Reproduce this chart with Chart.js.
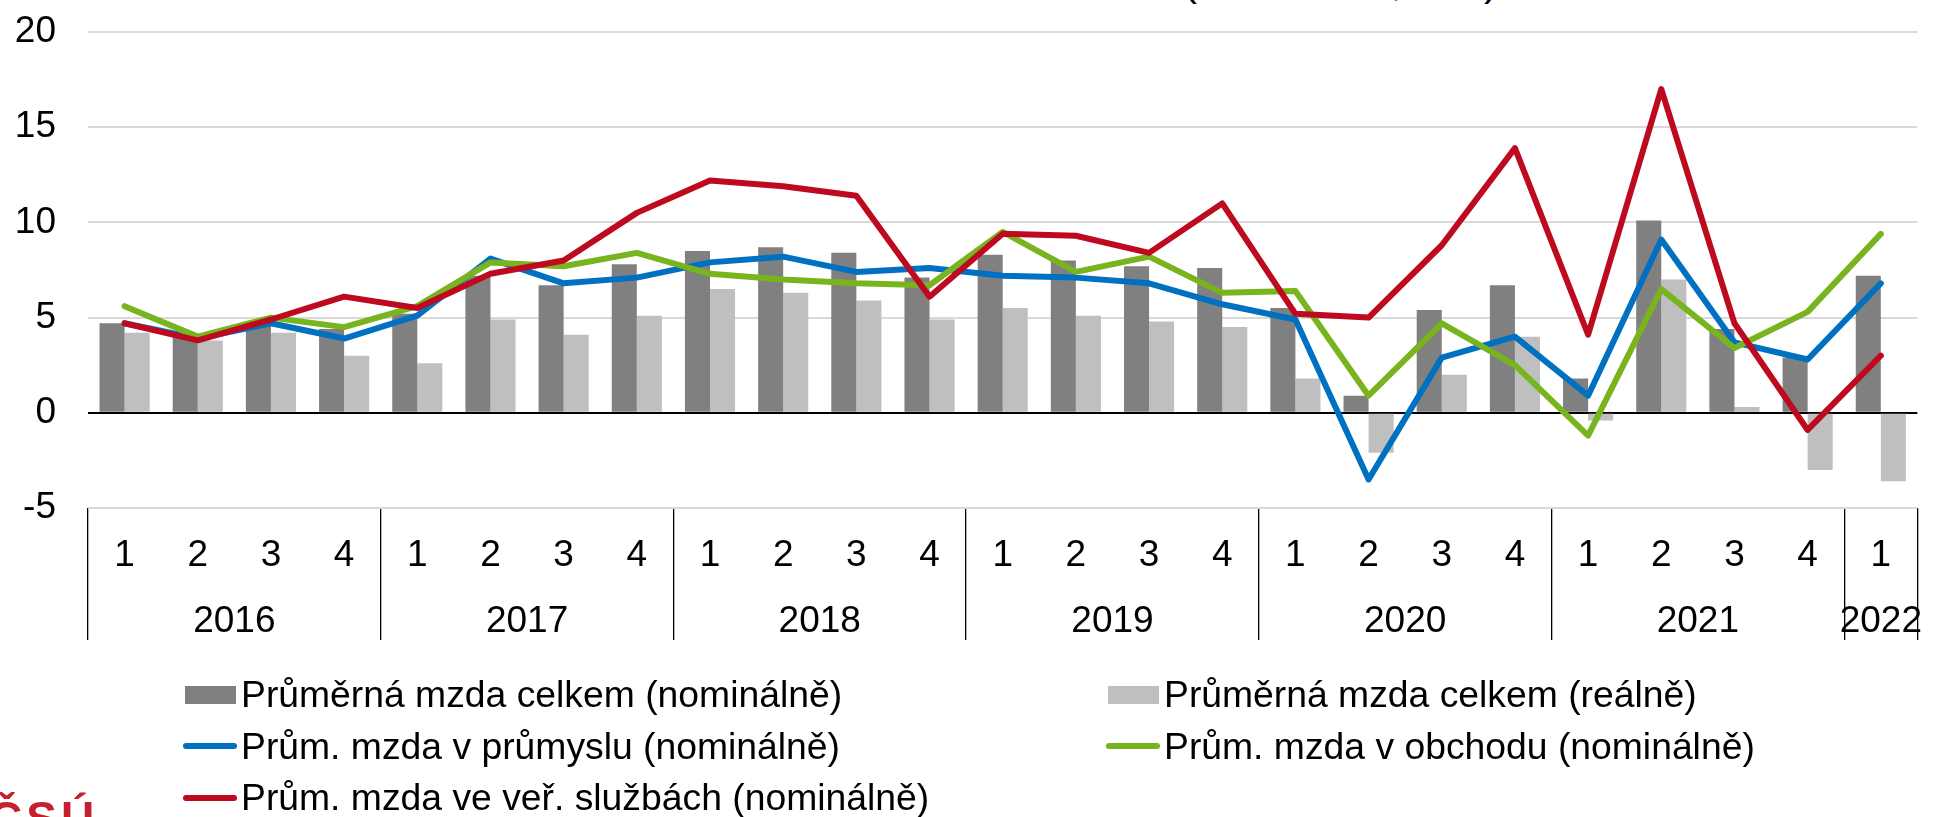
<!DOCTYPE html>
<html lang="cs">
<head>
<meta charset="utf-8">
<title>Průměrná mzda</title>
<script src="https://cdn.jsdelivr.net/npm/chart.js@4.4.1/dist/chart.umd.min.js"></script>
<style>
html, body { margin: 0; padding: 0; width: 1944px; height: 817px; overflow: hidden; background: #fff; }
#wrap { position: relative; width: 1944px; height: 817px; overflow: hidden; }
#chart { position: absolute; left: 0; top: 0; }
.title { position: absolute; right: 446px; top: -40px; font: 42px 'Liberation Sans', Arial, sans-serif; line-height: 1; white-space: nowrap; color: #000; }
.legend { position: absolute; left: 183px; top: 669px; display: grid; grid-template-columns: 923px auto; grid-auto-rows: 51.5px; font: 37.3px 'Liberation Sans', Arial, sans-serif; color: #000; }
.item { display: flex; align-items: center; white-space: nowrap; }
.mark { flex: none; width: 54px; margin-right: 4px; display: flex; align-items: center; justify-content: center; }
.logo { position: absolute; left: -11px; top: 795px; font: bold 46px 'Liberation Sans', Arial, sans-serif; letter-spacing: 4px; color: #C4202E; line-height: 1; }
</style>
</head>
<body>
<div id="wrap">
  <div class="title">Průměrná mzda (meziročně, v %)</div>
  <canvas id="chart" width="1944" height="817"></canvas>
  <div class="legend" id="legend"></div>
  <div class="logo">ČSÚ</div>
</div>
<script>
// categories
const quarterLabels = ['1','2','3','4', '1','2','3','4', '1','2','3','4', '1','2','3','4',
                       '1','2','3','4', '1','2','3','4', '1']
const years = ['2016','2017','2018','2019','2020','2021','2022']
const quartersPerYear = [4,4,4,4,4,4,1]
const yTicks = [-5,0,5,10,15,20]

// series (meziroční změna v %)
const wageNominal = [4.7, 4.0, 4.6, 4.4, 5.2, 7.2, 6.7, 7.8, 8.5, 8.7, 8.4, 7.1, 8.3, 8.0, 7.7, 7.6, 5.5, 0.9, 5.4, 6.7, 1.8, 10.1, 4.4, 2.9, 7.2]
const wageReal = [4.2, 3.8, 4.2, 3.0, 2.6, 4.9, 4.1, 5.1, 6.5, 6.3, 5.9, 4.9, 5.5, 5.1, 4.8, 4.5, 1.8, -2.1, 2.0, 4.0, -0.4, 7.0, 0.3, -3.0, -3.6]
const wageIndustry = [4.7, 3.9, 4.7, 3.9, 5.1, 8.1, 6.8, 7.1, 7.9, 8.2, 7.4, 7.6, 7.2, 7.1, 6.8, 5.7, 4.9, -3.5, 2.9, 4.0, 0.9, 9.1, 3.7, 2.8, 6.8]
const wageTrade = [5.6, 4.0, 5.0, 4.5, 5.6, 7.9, 7.7, 8.4, 7.3, 7.0, 6.8, 6.7, 9.5, 7.4, 8.2, 6.3, 6.4, 0.9, 4.7, 2.5, -1.2, 6.5, 3.4, 5.3, 9.4]
const wagePublic = [4.7, 3.8, 4.9, 6.1, 5.5, 7.3, 8.0, 10.5, 12.2, 11.9, 11.4, 6.1, 9.4, 9.3, 8.4, 11.0, 5.2, 5.0, 8.8, 13.9, 4.1, 17.0, 4.7, -0.9, 3.0]

// where each year starts / its middle, in category units
const yearStarts = []
let acc = 0
quartersPerYear.forEach(n => { yearStarts.push(acc); acc += n })
const boundaries = yearStarts.concat([acc])
const yearCentres = yearStarts.map((s, i) => s + (quartersPerYear[i] - 1) / 2)

Chart.defaults.font.family = "'Liberation Sans', Arial, sans-serif"
Chart.defaults.font.size = 37
Chart.defaults.color = '#000'

function barSet(label, data, color, order) {
    return { type: 'bar', label, data, backgroundColor: color, borderWidth: 0,
             categoryPercentage: 0.685, barPercentage: 1, order, xAxisID: 'x' }
}
function lineSet(label, data, color, order) {
    return { type: 'line', label, data, borderColor: color, backgroundColor: color, borderWidth: 6,
             pointRadius: 0, tension: 0, fill: false, borderJoinStyle: 'round', borderCapStyle: 'round',
             order, xAxisID: 'x' }
}

const ctx = document.getElementById('chart')
const myChart = new Chart(ctx, {
    data: {
        labels: quarterLabels,
        datasets: [
            barSet('Průměrná mzda celkem (nominálně)', wageNominal, '#808080', 10),
            barSet('Průměrná mzda celkem (reálně)', wageReal, '#BFBFBF', 11),
            lineSet('Prům. mzda v průmyslu (nominálně)', wageIndustry, '#0070C0', 3),
            lineSet('Prům. mzda v obchodu (nominálně)', wageTrade, '#78B41E', 2),
            lineSet('Prům. mzda ve veř. službách (nominálně)', wagePublic, '#BE0A1E', 1)
        ]
    },
    options: {
        responsive: false,
        animation: false,
        layout: { padding: { top: 32, right: 6, bottom: 139, left: 0 } },
        plugins: { legend: { display: false }, tooltip: { enabled: false }, title: { display: false } },
        scales: {
            x: {
                type: 'category',
                offset: true,
                grid: {
                    offset: true, drawOnChartArea: false, drawTicks: true, tickLength: 132, lineWidth: 1.3,
                    color: c => {
                        const i = c.index === undefined ? quarterLabels.length : c.index
                        return boundaries.includes(i) ? '#000' : 'rgba(0,0,0,0)'
                    }
                },
                border: { display: false },
                ticks: { padding: -106, autoSkip: false, maxRotation: 0, minRotation: 0 },
                afterFit: a => { a.height = 70 }
            },
            x2: {
                type: 'linear',
                position: 'bottom',
                min: -0.5,
                max: quarterLabels.length - 0.5,
                grid: { display: false, drawTicks: false },
                border: { display: false },
                afterBuildTicks: a => { a.ticks = yearCentres.map(v => ({ value: v })) },
                ticks: { autoSkip: false, maxRotation: 0, minRotation: 0, padding: 21.5,
                         callback: (v, i) => years[i] },
                afterFit: a => { a.height = 100 }
            },
            y: {
                min: -5,
                max: 20,
                afterBuildTicks: a => { a.ticks = yTicks.map(v => ({ value: v })) },
                grid: { drawTicks: false, lineWidth: 2,
                        color: c => (c.tick && c.tick.value === 0) ? '#000' : '#D9D9D9' },
                border: { display: false },
                ticks: { padding: 32 },
                // fixed width; don't let the label padding push the plot down
                afterFit: a => { a.width = 88; a.paddingTop = 0; a.paddingBottom = 0 }
            }
        }
    }
})

// legend in two columns, built from the datasets
const legendDiv = document.getElementById('legend')
myChart.data.datasets.forEach(ds => {
    const item = document.createElement('div')
    item.className = 'item'
    const mark = document.createElement('span')
    mark.className = 'mark'
    const sw = document.createElement('span')
    if (ds.type === 'bar') {
        sw.style.cssText = `display:block;width:51px;height:18px;background:${ds.backgroundColor}`
    } else {
        sw.style.cssText = `display:block;width:54px;height:6px;border-radius:3px;background:${ds.borderColor}`
    }
    mark.appendChild(sw)
    item.appendChild(mark)
    item.appendChild(document.createTextNode(ds.label))
    legendDiv.appendChild(item)
})
</script>
</body>
</html>
